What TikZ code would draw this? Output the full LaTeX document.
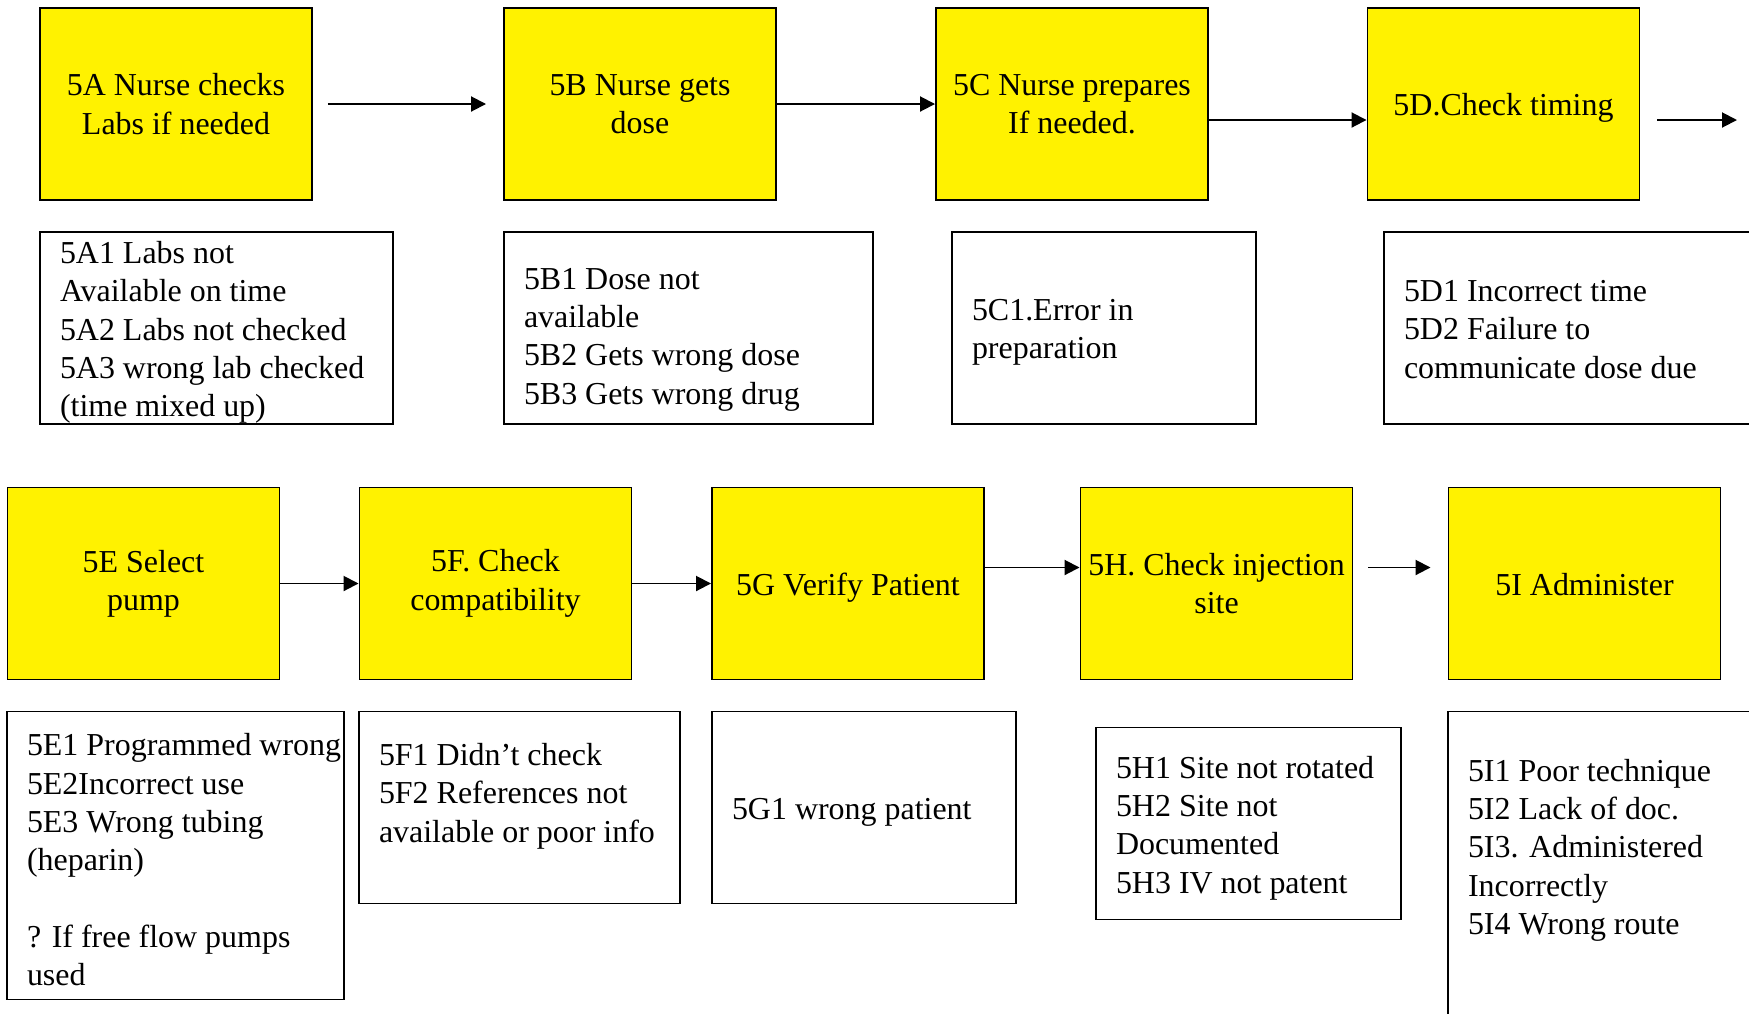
\documentclass[tikz,border=0pt]{standalone}
\usepackage{fontspec}
\setmainfont{Liberation Serif}
\usetikzlibrary{arrows.meta}
\usetikzlibrary{positioning}

\newcommand{\pxu}{0.36pt}
\newcommand{\boxfont}{\fontsize{11.5}{13.8}\selectfont}

\tikzset{
  stepbox/.style={draw, fill=yellow, minimum width=272*\pxu, minimum height=192*\pxu, align=center, inner sep=0pt, font=\boxfont},
  oneline/.style={text height=1.1em, text depth=0.25em},
  failbox/.style={draw, inner sep=0pt},
  failtext/.style={anchor=west, align=left, inner sep=0pt, yshift=-4.5*\pxu, font=\boxfont},
}

\begin{document}
\begin{tikzpicture}[x=\pxu, y=-\pxu, line width=0.7pt, >={Triangle[length=5.4pt, width=5.4pt]}]
    \useasboundingbox (0,0) rectangle (1749,1013);
    \clip (0,0) rectangle (1749,1013);

    % first row of steps
    \node[stepbox] (labs) at (176,104) {5A Nurse checks\\Labs if needed};
    \node[stepbox] (dose) at (640,104) {5B Nurse gets\\dose};
    \node[stepbox] (prep) at (1072,104) {5C Nurse prepares\\If needed.};
    \node[stepbox, oneline] (timing) at (1503.5,104) {5D.Check timing};

    \node[failbox, minimum width=353*\pxu, minimum height=192*\pxu] (labsfail) at (216.5,328) {};
    \node[failtext] (labsfailtxt) at ([xshift=20*\pxu]labsfail.west) {5A1 Labs not\\Available on time\\5A2 Labs not checked\\5A3 wrong lab checked\\(time mixed up)};
    \node[failbox, minimum width=369*\pxu, minimum height=192*\pxu] (dosefail) at (688.5,328) {};
    \node[failtext] (dosefailtxt) at ([xshift=20*\pxu, yshift=-7*\pxu]dosefail.west) {5B1 Dose not\\available\\5B2 Gets wrong dose\\5B3 Gets wrong drug};
    \node[failbox, minimum width=304*\pxu, minimum height=192*\pxu] (prepfail) at (1104,328) {};
    \node[failtext] (prepfailtxt) at ([xshift=20*\pxu]prepfail.west) {5C1.Error in\\preparation};
    \node[failbox, minimum width=376*\pxu, minimum height=192*\pxu] (timingfail) at (1572,328) {};
    \node[failtext] (timingfailtxt) at ([xshift=20*\pxu, yshift=3*\pxu]timingfail.west) {5D1 Incorrect time\\5D2 Failure to\\communicate dose due};

    % second row of steps
    \node[stepbox] (pump) at (143.5,583.5) {5E Select\\pump};
    \node[stepbox] (compat) at (495.5,583.5) {5F. Check\\compatibility};
    \node[stepbox, oneline] (verify) at (848,583.5) {5G Verify Patient};
    \node[stepbox] (site) at (1216.5,583.5) {5H. Check injection\\site};
    \node[stepbox, oneline] (admin) at (1584.5,583.5) {5I Administer};

    \node[failbox, minimum width=337*\pxu, minimum height=288*\pxu] (pumpfail) at (175.5,855.5) {};
    \node[failtext] (pumpfailtxt) at ([xshift=20*\pxu]pumpfail.west) {5E1 Programmed wrong\\5E2Incorrect use\\5E3 Wrong tubing\\(heparin)\\[13.8pt]? If free flow pumps\\used};
    \node[failbox, minimum width=321*\pxu, minimum height=192*\pxu] (compatfail) at (519.5,807.5) {};
    \node[failtext] (compatfailtxt) at ([xshift=20*\pxu, yshift=16*\pxu]compatfail.west) {5F1 Didn’t check\\5F2 References not\\available or poor info};
    \node[failbox, minimum width=304*\pxu, minimum height=192*\pxu] (verifyfail) at (864,807.5) {};
    \node[failtext] (verifyfailtxt) at ([xshift=20*\pxu]verifyfail.west) {5G1 wrong patient};
    \node[failbox, minimum width=305*\pxu, minimum height=192*\pxu] (sitefail) at (1248.5,823.5) {};
    \node[failtext] (sitefailtxt) at ([xshift=20*\pxu]sitefail.west) {5H1 Site not rotated\\5H2 Site not\\Documented\\5H3 IV not patent};
    \node[failbox, minimum width=312*\pxu, minimum height=318.5*\pxu] (adminfail) at (1604,870.75) {};
    \node[failtext] (adminfailtxt) at ([xshift=20*\pxu, yshift=25*\pxu]adminfail.west) {5I1 Poor technique\\5I2 Lack of doc.\\5I3. Administered\\Incorrectly\\5I4 Wrong route};

    \coordinate (timingout) at (1737,120);

    \draw[->, shorten <=15*\pxu, shorten >=17*\pxu] (labs) -- (dose);
    \draw[->] (dose) -- (prep);
    \draw[->] ([yshift=-16*\pxu]prep.east) -- ([yshift=-16*\pxu]timing.west);
    \draw[->, shorten <=17*\pxu] ([yshift=-16*\pxu]timing.east) -- (timingout);
    \draw[->] (pump) -- (compat);
    \draw[->] (compat) -- (verify);
    \draw[->] ([yshift=16*\pxu]verify.east) -- ([yshift=16*\pxu]site.west);
    \draw[->, shorten <=15*\pxu, shorten >=17*\pxu] ([yshift=16*\pxu]site.east) -- ([yshift=16*\pxu]admin.west);
\end{tikzpicture}
\end{document}
